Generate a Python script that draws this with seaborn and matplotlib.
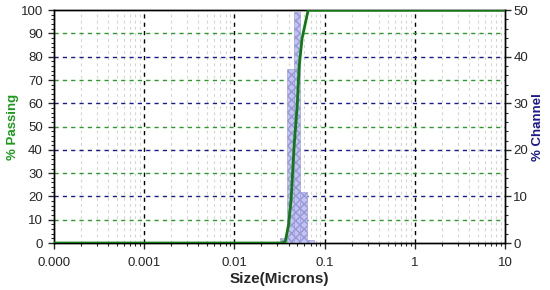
import numpy as np
import pandas as pd
import matplotlib
matplotlib.use('Agg')
import matplotlib.pyplot as plt
import matplotlib.ticker as mticker
import seaborn as sns

# ── Data ────────────────────────────────────────────────────────────────────
bin_edges  = [0.0325, 0.0385, 0.0455, 0.0540, 0.0642, 0.0763]
channel    = [1.0, 37.3, 49.5, 11.0, 0.7]

size_um    = [0.0001, 0.0330, 0.0367, 0.0400, 0.0427, 0.0461, 0.0498, 0.0524, 0.0565, 0.0659, 0.0700, 10.0]
passing    = [0.0,    0.0,    0.5,    8.0,    19.0,   42.0,   59.0,   76.0,   88.0,   100.0,  100.0,  100.0]

xticks      = [0.0001, 0.001, 0.01, 0.1, 1, 10]
xticklabels = ['0.000', '0.001', '0.01', '0.1', '1', '10']
green_levels = [10, 30, 50, 70, 90]
navy_levels  = [20, 40, 60, 80]

sns.set_style('white')
plt.rcParams['font.family'] = ['Liberation Sans', 'DejaVu Sans']

fig = plt.figure(figsize=(5.5, 2.9), dpi=100)
ax = fig.add_axes([0.098, 0.162, 0.820, 0.803])
ax.set_xscale('log')
ax.set_xlim(0.0001, 10)
ax.set_ylim(0, 100)

# vertical grid: grey minors, black decades
for d in [0.0001, 0.001, 0.01, 0.1, 1]:
    for m in range(2, 10):
        ax.axvline(d * m, color='#d4d4d4', lw=0.8, ls=(0, (2.5, 3)), zorder=0)
for d in xticks[1:-1]:
    ax.axvline(d, color='black', lw=1.0, ls=(0, (3, 3)), zorder=0)
for lv in green_levels:
    ax.axhline(lv, color='#2e9a2e', lw=1.0, ls=(0, (3, 3)), zorder=0)
for lv in navy_levels:
    ax.axhline(lv, color='#1a1a8c', lw=1.0, ls=(0, (3, 3)), zorder=0)

ax.set_ylabel('% Passing', fontsize=9.5, fontweight='bold', color='#1a9a1a', labelpad=1)

# right axis: channel histogram
ax2 = ax.twinx()
ax2.set_ylim(0, 50)
ax2.bar(bin_edges[:-1], channel, width=np.diff(bin_edges), align='edge',
        color='#c4c4f0', edgecolor='#9696da', hatch='xxxx', lw=0.4, zorder=2)
ax2.set_yticks(range(0, 51, 10))
ax2.set_yticks(range(0, 51, 2), minor=True)
ax2.tick_params(axis='y', which='major', length=4, width=1, labelsize=9.5, direction='out', right=True, pad=2)
ax2.tick_params(axis='y', which='minor', length=2.5, width=0.8, direction='out', right=True)
ax2.set_ylabel('% Channel', fontsize=9.5, fontweight='bold', color='#1a1a8c', labelpad=3)

# cumulative line on top
ax3 = ax.twinx()
ax3.set_ylim(0, 100)
ax3.axis('off')
df = pd.DataFrame({'size': size_um, 'passing': passing})
sns.lineplot(data=df, x='size', y='passing', ax=ax3, color='#0f7a0f', lw=2, sort=False)
ax3.set_xscale('log')
ax3.set_xlim(0.0001, 10)

# ticks last (shared x scale resets them)
ax.xaxis.set_major_locator(mticker.FixedLocator(xticks))
ax.xaxis.set_major_formatter(mticker.FixedFormatter(xticklabels))
ax.xaxis.set_minor_locator(mticker.LogLocator(base=10, subs=range(2, 10)))
ax.xaxis.set_minor_formatter(mticker.NullFormatter())
ax.set_yticks(range(0, 101, 10))
ax.set_yticks(range(0, 101, 2), minor=True)
ax.tick_params(axis='both', which='major', length=4, width=1, labelsize=9.5, direction='out', left=True, bottom=True)
ax.tick_params(axis='y', which='major', pad=4)
ax.tick_params(axis='x', which='major', pad=6)
ax.tick_params(axis='both', which='minor', length=2.5, width=0.8, direction='out', left=True, bottom=True)
ax.set_xlabel('Size(Microns)', fontsize=11, fontweight='bold', labelpad=2)

for a in (ax, ax2):
    for s in a.spines.values():
        s.set_color('black')
        s.set_linewidth(1)

plt.savefig('out.png', dpi=100)
plt.close()
